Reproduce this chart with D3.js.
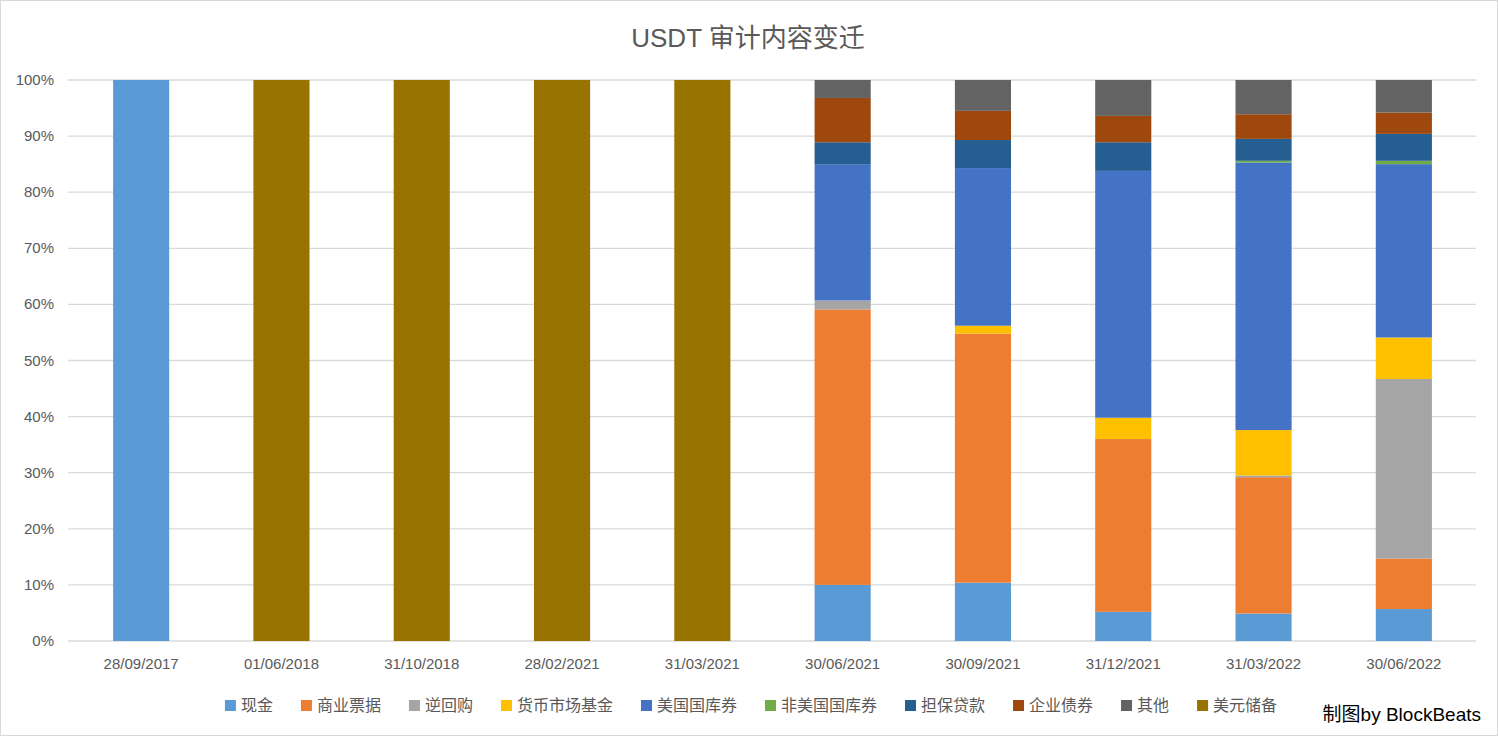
<!DOCTYPE html>
<html><head><meta charset="utf-8">
<script src="https://cdn.jsdelivr.net/npm/d3@7/dist/d3.min.js"></script>
<style>body{margin:0;background:#fff;font-family:"Liberation Sans","Noto Sans CJK SC",sans-serif}</style>
</head><body><svg id="c" width="1498" height="736"></svg>
<script>
const dates = ["28/09/2017","01/06/2018","31/10/2018","28/02/2021","31/03/2021","30/06/2021","30/09/2021","31/12/2021","31/03/2022","30/06/2022"];
const seriesNames = ["现金","商业票据","逆回购","货币市场基金","美国国库券","非美国国库券","担保贷款","企业债券","其他","美元储备"];
const colors = ["#5b9bd5","#ed7d31","#a5a5a5","#ffc000","#4472c4","#70ad47","#255e91","#9e480e","#636363","#997300"];
const cash      = [100,0,0,0,0,10.0,10.4,5.2,4.9,5.7];
const cp        = [0,0,0,0,0,49.1,44.4,30.8,24.3,9.0];
const repo      = [0,0,0,0,0,1.6,0,0,0.3,32.0];
const mmf       = [0,0,0,0,0,0,1.4,3.8,8.1,7.4];
const tbills    = [0,0,0,0,0,24.3,28.1,44.0,47.7,30.9];
const nonUS     = [0,0,0,0,0,0,0,0,0.3,0.6];
const secured   = [0,0,0,0,0,3.9,5.0,5.1,3.9,4.8];
const corp      = [0,0,0,0,0,7.9,5.2,4.7,4.4,3.8];
const other     = [0,0,0,0,0,3.2,5.5,6.4,6.1,5.8];
const usdRes    = [0,100,100,100,100,0,0,0,0,0];
const yTicks = [0,10,20,30,40,50,60,70,80,90,100];

const all=[cash,cp,repo,mmf,tbills,nonUS,secured,corp,other,usdRes];
const rows=dates.map((d,i)=>{const o={date:d};seriesNames.forEach((s,k)=>o[s]=all[k][i]);return o;});
const stack=d3.stack().keys(seriesNames)(rows);
const svg=d3.select("#c");
svg.append("rect").attr("x",0.5).attr("y",0.5).attr("width",1497).attr("height",735).attr("fill","#fff").attr("stroke","#d9d9d9");
const x=d3.scaleBand().domain(dates).range([71,1474]).paddingInner(0.6).paddingOuter(0.3);
const y=d3.scaleLinear().domain([0,100]).range([641,80]);
svg.append("g").selectAll("line").data(yTicks).join("line")
 .attr("x1",68).attr("x2",1476).attr("y1",d=>y(d)).attr("y2",d=>y(d)).attr("stroke","#d9d9d9").attr("stroke-width",1.3);
svg.append("g").selectAll("text").data(yTicks).join("text")
 .attr("x",54).attr("y",d=>y(d)+5).attr("text-anchor","end").attr("font-size",15).attr("fill","#595959").text(d=>d+"%");
stack.forEach((s,k)=>{
 svg.append("g").attr("fill",colors[k]).selectAll("rect").data(s).join("rect")
  .attr("x",d=>x(d.data.date)).attr("width",x.bandwidth())
  .attr("y",d=>y(d[1])).attr("height",d=>y(d[0])-y(d[1]));
});
svg.append("g").selectAll("text").data(dates).join("text")
 .attr("x",d=>x(d)+x.bandwidth()/2).attr("y",669).attr("text-anchor","middle").attr("font-size",15).attr("fill","#595959").text(d=>d);
svg.append("text").attr("x",748).attr("y",47).attr("text-anchor","middle").attr("font-size",26).attr("fill","#595959").text("USDT 审计内容变迁");
const lg=svg.append("g");
let cx=0;
seriesNames.forEach((s,k)=>{
 const g=lg.append("g").attr("transform",`translate(${cx},0)`);
 g.append("rect").attr("x",0).attr("y",-10).attr("width",11).attr("height",11).attr("fill",colors[k]);
 const t=g.append("text").attr("x",16).attr("y",1).attr("font-size",16).attr("fill","#595959").text(s);
 cx+=16+t.node().getComputedTextLength()+28;
});
lg.attr("transform",`translate(${751-(cx-28)/2},710)`);
svg.append("text").attr("x",1481).attr("y",721).attr("text-anchor","end").attr("font-size",19).attr("fill","#000").text("制图by BlockBeats");
</script></body></html>
